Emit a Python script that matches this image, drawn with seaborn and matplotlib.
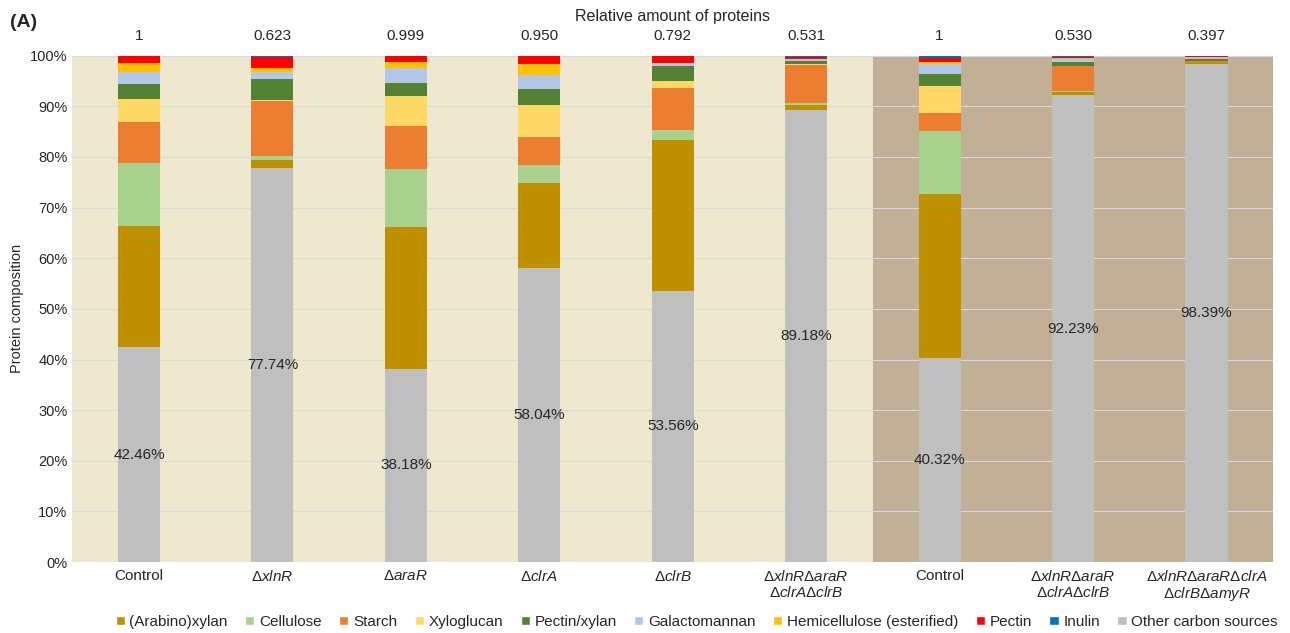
import numpy as np
import pandas as pd
import seaborn as sns
import matplotlib.pyplot as plt
from matplotlib.patches import Patch
from matplotlib.ticker import PercentFormatter

# strains, left to right
strains = ["Control", "Δ$\\mathit{xlnR}$", "Δ$\\mathit{araR}$", "Δ$\\mathit{clrA}$", "Δ$\\mathit{clrB}$",
           "Δ$\\mathit{xlnR}$Δ$\\mathit{araR}$\nΔ$\\mathit{clrA}$Δ$\\mathit{clrB}$",
           "Control",
           "Δ$\\mathit{xlnR}$Δ$\\mathit{araR}$\nΔ$\\mathit{clrA}$Δ$\\mathit{clrB}$",
           "Δ$\\mathit{xlnR}$Δ$\\mathit{araR}$Δ$\\mathit{clrA}$\nΔ$\\mathit{clrB}$Δ$\\mathit{amyR}$"]
relative_amount = ["1", "0.623", "0.999", "0.950", "0.792", "0.531", "1", "0.530", "0.397"]

# protein composition (%), stacked bottom -> top
other = [42.46, 77.74, 38.18, 58.04, 53.56, 89.18, 40.32, 92.23, 98.39]
arabinoxylan = [24.0, 1.6, 27.9, 16.9, 29.74, 1.0, 32.4, 0.65, 0.4]
cellulose = [12.4, 0.85, 11.5, 3.5, 2.0, 0.45, 12.45, 0.1, 0.0]
starch = [8.0, 10.8, 8.6, 5.6, 8.4, 7.5, 3.6, 5.05, 0.1]
xyloglucan = [4.5, 0.2, 5.9, 6.3, 1.3, 0.2, 5.3, 0.0, 0.0]
pectin_xylan = [3.1, 4.25, 2.6, 3.0, 3.0, 0.65, 2.25, 0.8, 0.5]
galactomannan = [2.3, 1.25, 2.8, 2.8, 0.5, 0.3, 2.05, 0.45, 0.4]
hemicellulose = [1.8, 0.9, 1.3, 2.2, 0.1, 0.1, 0.45, 0.25, 0.0]
pectin = [1.4, 2.1, 1.2, 1.65, 1.4, 0.3, 0.75, 0.2, 0.2]
inulin = [0.0, 0.3, 0.0, 0.0, 0.0, 0.3, 0.45, 0.3, 0.0]

series = [
    ("Other carbon sources", other, "#BFBFBF"),
    ("(Arabino)xylan", arabinoxylan, "#BF9000"),
    ("Cellulose", cellulose, "#A9D18E"),
    ("Starch", starch, "#ED7D31"),
    ("Xyloglucan", xyloglucan, "#FFD966"),
    ("Pectin/xylan", pectin_xylan, "#548235"),
    ("Galactomannan", galactomannan, "#B4C7E7"),
    ("Hemicellulose (esterified)", hemicellulose, "#FFC000"),
    ("Pectin", pectin, "#FF0000"),
    ("Inulin", inulin, "#0070C0"),
]

sns.set_style("white")
plt.rcParams["font.family"] = ["Liberation Sans", "DejaVu Sans"]
plt.rcParams["mathtext.fontset"] = "custom"
plt.rcParams["mathtext.rm"] = "Liberation Sans"
plt.rcParams["mathtext.it"] = "Liberation Sans:italic"

ids = [f"s{i}" for i in range(len(strains))]

fig, ax = plt.subplots(figsize=(12.9, 6.33), dpi=100)
fig.subplots_adjust(left=0.056, right=0.987, top=0.912, bottom=0.112)

ax.axvspan(-0.5, 5.5, color="#EEE9CE", zorder=0, lw=0)
ax.axvspan(5.5, 8.5, color="#C1AF96", zorder=0, lw=0)

bottom = np.zeros(len(ids))
for name, vals, col in series:
    df = pd.DataFrame({"strain": ids, "value": vals})
    sns.barplot(data=df, x="strain", y="value", order=ids, color=col, width=0.315,
                bottom=bottom, errorbar=None, ax=ax, zorder=3, linewidth=0, saturation=1)
    bottom = bottom + np.array(vals)

for i, v in enumerate(other):
    ax.text(i, v / 2, f"{v:.2f}%", ha="center", va="center", fontsize=11, zorder=5)

ax.set_xlim(-0.5, 8.5)
ax.set_ylim(0, 100)
ax.set_yticks(np.arange(0, 101, 10))
ax.yaxis.set_major_formatter(PercentFormatter(100, decimals=0))
ax.yaxis.grid(True, color="#D9D9D9", lw=0.8, zorder=1)
ax.set_axisbelow(False)
for gl in ax.get_ygridlines():
    gl.set_zorder(1)
ax.set_xticks(range(len(ids)))
ax.set_xticklabels(strains, fontsize=11, linespacing=1.05)
ax.tick_params(axis="y", labelsize=10.5, length=0)
ax.tick_params(axis="x", length=0, pad=5)
ax.set_xlabel("")
ax.set_ylabel("Protein composition", fontsize=10.5)
sns.despine(ax=ax, left=True, bottom=True)

top = ax.secondary_xaxis("top")
top.set_xticks(range(len(ids)))
top.set_xticklabels(relative_amount, fontsize=11)
top.tick_params(length=0, pad=9)
top.set_xlabel("Relative amount of proteins", fontsize=11.5, labelpad=6)
top.spines["top"].set_visible(False)

fig.text(0.008, 0.958, "(A)", fontsize=14, fontweight="bold")

order = ["(Arabino)xylan", "Cellulose", "Starch", "Xyloglucan", "Pectin/xylan", "Galactomannan",
         "Hemicellulose (esterified)", "Pectin", "Inulin", "Other carbon sources"]
colors = {n: c for n, _, c in series}
handles = [Patch(facecolor=colors[n], label=n) for n in order]
fig.legend(handles=handles, loc="lower center", bbox_to_anchor=(0.54, -0.015), ncol=10, frameon=False,
           fontsize=11, handlelength=0.6, handleheight=0.6, handletextpad=0.3, columnspacing=1.15)

fig.savefig("out.png", dpi=100)
